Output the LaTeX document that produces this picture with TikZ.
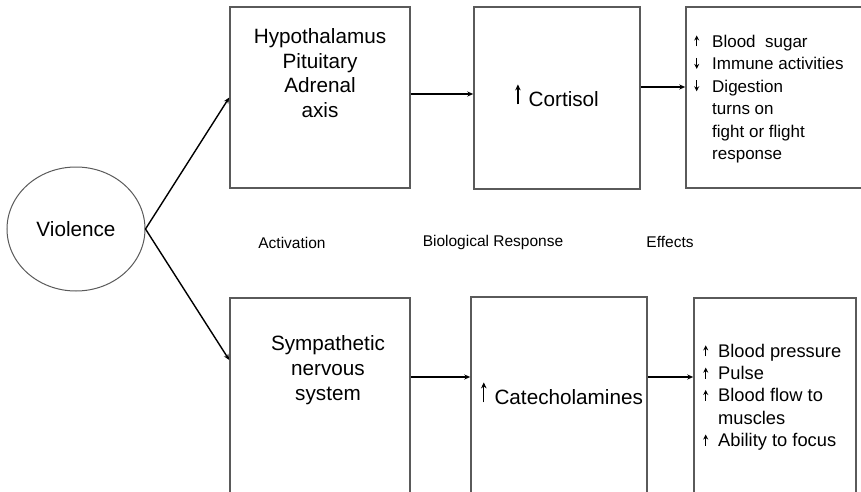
\documentclass[tikz,border=0pt]{standalone}
\usepackage{fontspec}
\setmainfont{Liberation Sans}
\usetikzlibrary{shapes.geometric,arrows.meta}
\definecolor{boxline}{HTML}{5A5A5A}
\tikzset{
  panel/.style={draw=boxline,line width=1.5pt,minimum width=#1,inner sep=0pt},
  conn/.style={line width=1.4pt,-{Stealth[length=6pt,width=5pt]}},
  bigtxt/.style={font=\fontsize{20.7}{24.7}\selectfont,align=center,inner sep=0pt},
  colhead/.style={font=\fontsize{15.5}{18}\selectfont,inner sep=0pt},
}
% small list arrows (up / down) and the tall arrow before a hormone name
\newcommand{\upar}{\tikz[baseline=-1pt,x=1pt,y=1pt]\draw[line width=1.2pt,-{Stealth[length=5pt,width=5pt]}] (0,0) -- (0,11);}
\newcommand{\dnar}{\tikz[baseline=-1pt,x=1pt,y=1pt]\draw[line width=1.2pt,-{Stealth[length=5pt,width=5pt]}] (0,11) -- (0,0);}
\newcommand{\tallup}{\smash{\tikz[baseline=-2pt,x=1pt,y=1pt]\draw[line width=1.2pt,-{Stealth[length=6pt,width=5.5pt]}] (0,0) -- (0,20);}}
\begin{document}
\begin{tikzpicture}[x=1pt,y=-1pt]
  \useasboundingbox (0,0) rectangle (861,492);
  \clip (0,0) rectangle (861,492);
  \fill[white] (0,0) rectangle (861,492);

  % source of stress
  \node[ellipse,draw=boxline,line width=1pt,minimum width=138pt,minimum height=124pt,
        inner sep=0pt,font=\fontsize{20.7}{24}\selectfont] (vio) at (76,229) {Violence};

  % upper pathway
  \node[panel=180pt,minimum height=181pt] (hpa) at (320,97.5) {};
  \node[panel=166pt,minimum height=182pt] (cort) at (557,98) {};
  \node[panel=184pt,minimum height=181pt] (eff1) at (778,97.5) {};

  % lower pathway
  \node[panel=180pt,minimum height=202pt] (sns) at (320,399) {};
  \node[panel=176pt,minimum height=203pt] (cat) at (559,398.5) {};
  \node[panel=162pt,minimum height=202pt] (eff2) at (775,399) {};

  % box texts
  \node[bigtxt] (hpaT) at (320,73) {Hypothalamus\\Pituitary\\Adrenal\\axis};
  \node[bigtxt] (cortT) at (557,99) {\tallup\hspace{8pt}Cortisol};
  \node[bigtxt] (snsT) at (328,370) {Sympathetic\\nervous\\system};
  \node[bigtxt] (catT) at (562,397) {\tallup\hspace{8pt}Catecholamines};

  \node[anchor=west,inner sep=0pt,font=\fontsize{17}{22.4}\selectfont] (eff1T) at (694,99)
    {\begin{tabular}{@{}l@{}l@{}}
      \makebox[18pt][l]{\upar} & Blood\ \ sugar\\
      \makebox[18pt][l]{\dnar} & Immune\ activities\\
      \makebox[18pt][l]{\dnar} & Digestion\\
            & turns on\\
            & fight or flight\\
            & response
     \end{tabular}};
  \node[anchor=west,inner sep=0pt,font=\fontsize{18.3}{22.3}\selectfont] (eff2T) at (703,397.5)
    {\begin{tabular}{@{}l@{}l@{}}
      \makebox[15pt][l]{\upar} & Blood pressure\\
      \makebox[15pt][l]{\upar} & Pulse\\
      \makebox[15pt][l]{\upar} & Blood flow to\\
            & muscles\\
      \makebox[15pt][l]{\upar} & Ability to focus
     \end{tabular}};

  % column headings
  \node[colhead] (hAct) at (292,243) {Activation};
  \node[colhead] (hBio) at (493,242) {Biological Response};
  \node[colhead] (hEff) at (670,242) {Effects};

  % connectors
  \draw[conn] (vio.east) -- (hpa.west);
  \draw[conn] (vio.east) -- ([yshift=39pt]sns.west);
  \draw[conn] ([yshift=3.5pt]hpa.east) -- ([yshift=4pt]cort.west);
  \draw[conn] ([yshift=11pt]cort.east) -- ([yshift=10.5pt]eff1.west);
  \draw[conn] ([yshift=22pt]sns.east) -- ([yshift=21.5pt]cat.west);
  \draw[conn] ([yshift=21.5pt]cat.east) -- ([yshift=22pt]eff2.west);
\end{tikzpicture}
\end{document}
